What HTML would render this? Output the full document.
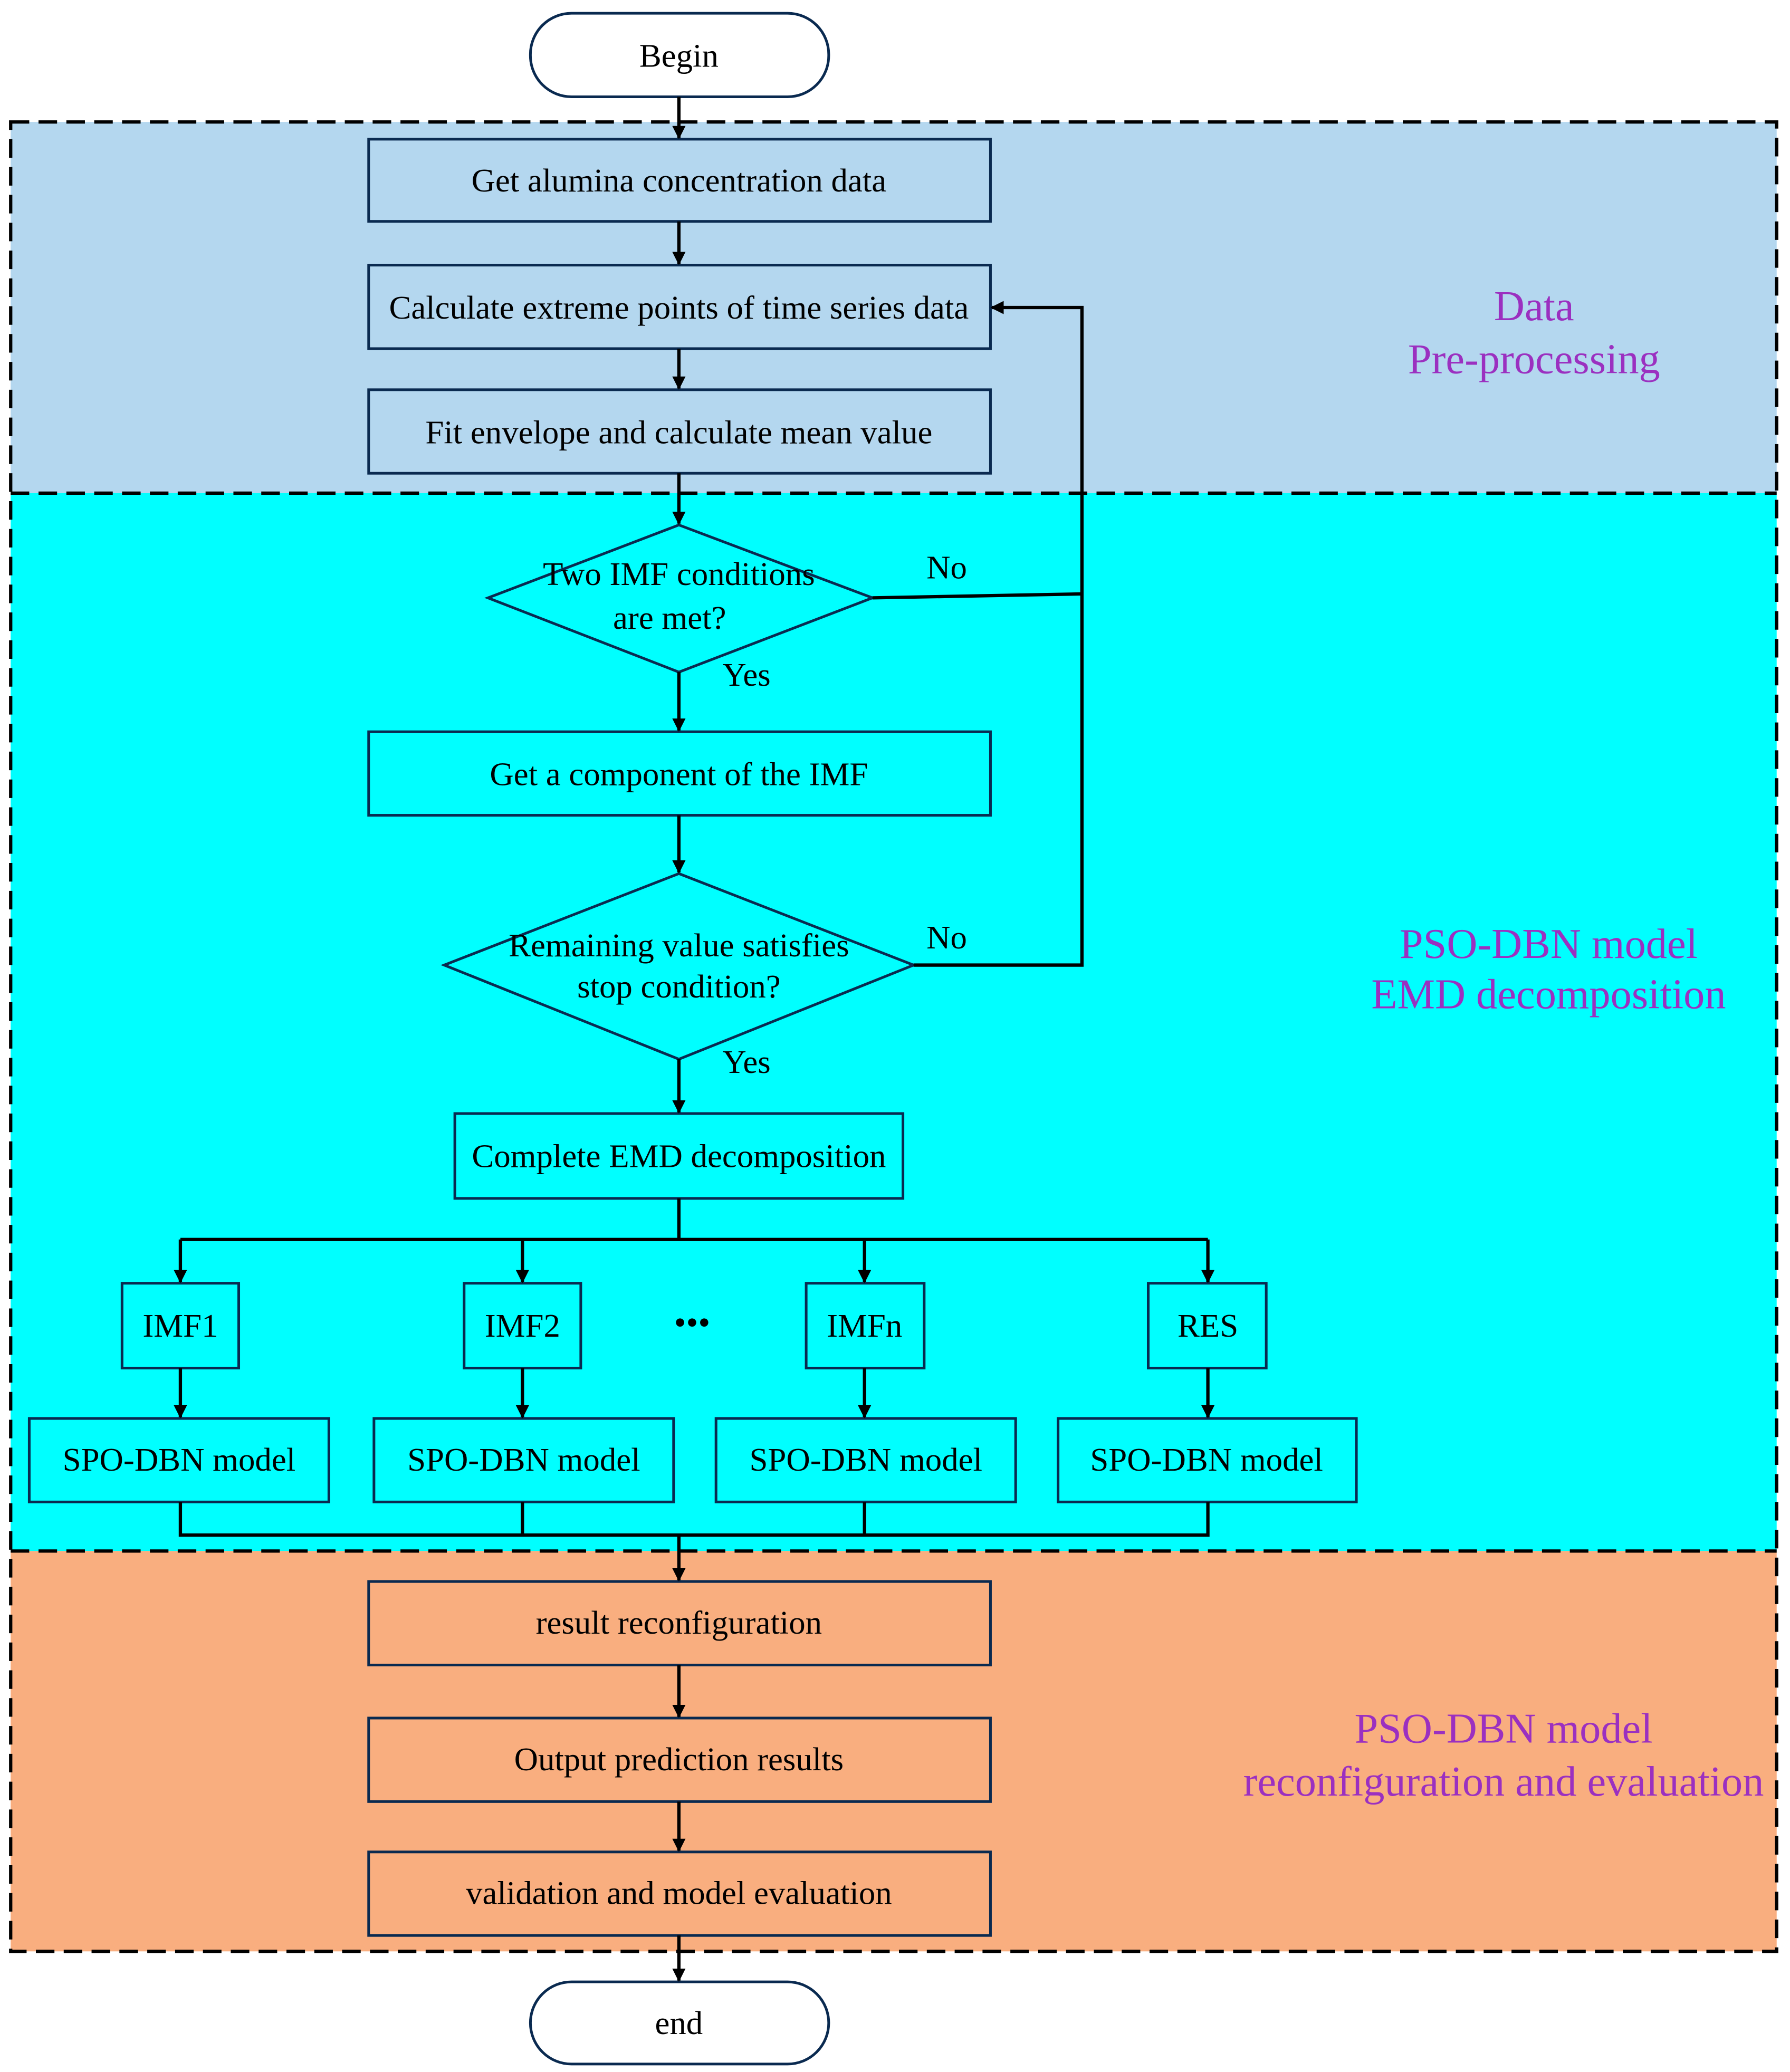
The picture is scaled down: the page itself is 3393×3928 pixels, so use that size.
<!DOCTYPE html>
<html><head><meta charset="utf-8"><style>html,body{margin:0;padding:0;background:#fff}svg{display:block}</style></head>
<body>
<svg width="3393" height="3928" viewBox="0 0 1350 1563" xmlns="http://www.w3.org/2000/svg" font-family="Liberation Serif, serif">
<defs><marker id="a" markerWidth="10" markerHeight="10" refX="9" refY="5" orient="auto" markerUnits="userSpaceOnUse"><path d="M0,0 L10,5 L0,10 z" fill="#000"/></marker></defs>
<rect x="8" y="92" width="1332" height="280" fill="#b4d7ef"/>
<rect x="8" y="372" width="1332" height="798" fill="#00ffff"/>
<rect x="8" y="1170" width="1332" height="302" fill="#f9ae7f"/>
<g fill="none" stroke="#000" stroke-width="2.5" stroke-dasharray="14,7">
<rect x="8" y="92" width="1332" height="1380"/>
<line x1="8" y1="372" x2="1340" y2="372"/><line x1="8" y1="1170" x2="1340" y2="1170"/>
</g>
<g stroke="#0a2a50" stroke-width="2" fill="none">
<rect x="400" y="10" width="225" height="63" rx="31"/>
<rect x="400" y="1495" width="225" height="62" rx="31"/>
<rect x="278" y="105" width="469" height="62"/>
<rect x="278" y="200" width="469" height="63"/>
<rect x="278" y="294" width="469" height="63"/>
<polygon points="512,396 658,451 512,507 368,451"/>
<rect x="278" y="552" width="469" height="63"/>
<polygon points="512,659 689,728 512,799 335,728"/>
<rect x="343" y="840" width="338" height="64"/>
<rect x="92" y="968" width="88" height="64"/><rect x="350" y="968" width="88" height="64"/>
<rect x="608" y="968" width="89" height="64"/><rect x="866" y="968" width="89" height="64"/>
<rect x="22" y="1070" width="226" height="63"/><rect x="282" y="1070" width="226" height="63"/>
<rect x="540" y="1070" width="226" height="63"/><rect x="798" y="1070" width="225" height="63"/>
<rect x="278" y="1193" width="469" height="63"/><rect x="278" y="1296" width="469" height="63"/>
<rect x="278" y="1397" width="469" height="63"/>
</g>
<g stroke="#000" stroke-width="2.5" fill="none">
<line x1="512" y1="73" x2="512" y2="104" marker-end="url(#a)"/>
<line x1="512" y1="167" x2="512" y2="199" marker-end="url(#a)"/>
<line x1="512" y1="263" x2="512" y2="293" marker-end="url(#a)"/>
<line x1="512" y1="357" x2="512" y2="395" marker-end="url(#a)"/>
<line x1="512" y1="507" x2="512" y2="551" marker-end="url(#a)"/>
<line x1="512" y1="615" x2="512" y2="658" marker-end="url(#a)"/>
<line x1="512" y1="799" x2="512" y2="839" marker-end="url(#a)"/>
<polyline points="658,451 816,448"/>
<polyline points="689,728 816,728 816,232 748,232" marker-end="url(#a)"/>
<line x1="512" y1="904" x2="512" y2="935"/>
<line x1="136" y1="935" x2="911" y2="935"/>
<line x1="136" y1="935" x2="136" y2="967" marker-end="url(#a)"/>
<line x1="394" y1="935" x2="394" y2="967" marker-end="url(#a)"/>
<line x1="652" y1="935" x2="652" y2="967" marker-end="url(#a)"/>
<line x1="911" y1="935" x2="911" y2="967" marker-end="url(#a)"/>
<line x1="136" y1="1032" x2="136" y2="1069" marker-end="url(#a)"/>
<line x1="394" y1="1032" x2="394" y2="1069" marker-end="url(#a)"/>
<line x1="652" y1="1032" x2="652" y2="1069" marker-end="url(#a)"/>
<line x1="911" y1="1032" x2="911" y2="1069" marker-end="url(#a)"/>
<polyline points="136,1133 136,1158 911,1158 911,1133"/>
<line x1="394" y1="1133" x2="394" y2="1158"/><line x1="652" y1="1133" x2="652" y2="1158"/>
<line x1="512" y1="1158" x2="512" y2="1192" marker-end="url(#a)"/>
<line x1="512" y1="1256" x2="512" y2="1295" marker-end="url(#a)"/>
<line x1="512" y1="1359" x2="512" y2="1396" marker-end="url(#a)"/>
<line x1="512" y1="1460" x2="512" y2="1494" marker-end="url(#a)"/>
</g>
<g font-size="25" text-anchor="middle" fill="#000" dominant-baseline="central">
<text x="512" y="42">Begin</text>
<text x="512" y="136">Get alumina concentration data</text>
<text x="512" y="232">Calculate extreme points of time series data</text>
<text x="512" y="326">Fit envelope and calculate mean value</text>
<text x="512" y="433">Two IMF conditions</text>
<text x="505" y="466">are met?</text>
<text x="714" y="428">No</text><text x="563" y="509">Yes</text>
<text x="512" y="584">Get a component of the IMF</text>
<text x="512" y="713">Remaining value satisfies</text>
<text x="512" y="744">stop condition?</text>
<text x="714" y="707">No</text><text x="563" y="801">Yes</text>
<text x="512" y="872">Complete EMD decomposition</text>
<text x="136" y="1000">IMF1</text><text x="394" y="1000">IMF2</text>
<text x="522" y="998" font-size="26">•••</text>
<text x="652" y="1000">IMFn</text><text x="911" y="1000">RES</text>
<text x="135" y="1101">SPO-DBN model</text><text x="395" y="1101">SPO-DBN model</text>
<text x="653" y="1101">SPO-DBN model</text><text x="910" y="1101">SPO-DBN model</text>
<text x="512" y="1224">result reconfiguration</text>
<text x="512" y="1327">Output prediction results</text>
<text x="512" y="1428">validation and model evaluation</text>
<text x="512" y="1526">end</text>
</g>
<g font-size="32" text-anchor="middle" fill="#9b30c0" dominant-baseline="central">
<text x="1157" y="231">Data</text><text x="1157" y="271">Pre-processing</text>
<text x="1168" y="712">PSO-DBN model</text><text x="1168" y="750">EMD decomposition</text>
<text x="1134" y="1304">PSO-DBN model</text><text x="1134" y="1344">reconfiguration and evaluation</text>
</g>
</svg>
</body></html>
